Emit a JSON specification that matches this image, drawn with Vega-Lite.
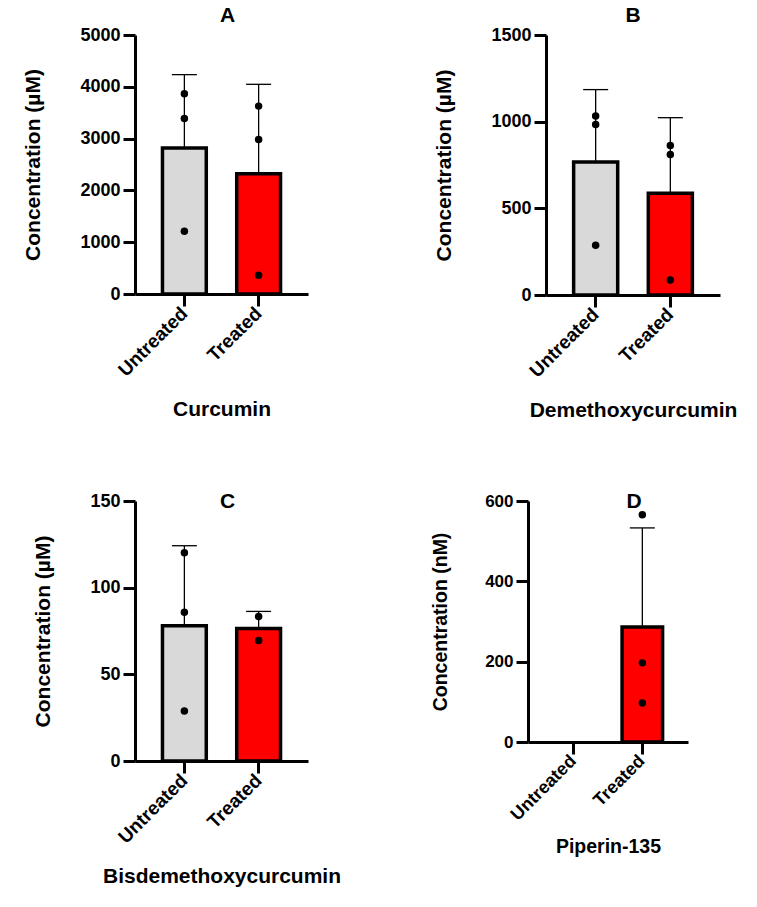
{
  "$schema": "https://vega.github.io/schema/vega-lite/v6.json",
  "background": "white",
  "padding": {"left": 22, "top": 5, "right": 5, "bottom": 5},
  "datasets": {
    "bars": [
      {"compound": "Curcumin", "group": "Untreated", "mean": 2820, "upper": 4235},
      {"compound": "Curcumin", "group": "Treated", "mean": 2320, "upper": 4048},
      {"compound": "Demethoxycurcumin", "group": "Untreated", "mean": 768, "upper": 1185},
      {"compound": "Demethoxycurcumin", "group": "Treated", "mean": 587, "upper": 1023},
      {"compound": "Bisdemethoxycurcumin", "group": "Untreated", "mean": 78, "upper": 124.2},
      {"compound": "Bisdemethoxycurcumin", "group": "Treated", "mean": 76.4, "upper": 86.3},
      {"compound": "Piperin-135", "group": "Treated", "mean": 286, "upper": 533}
    ],
    "points": [
      {"compound": "Curcumin", "group": "Untreated", "value": 3865},
      {"compound": "Curcumin", "group": "Untreated", "value": 3387},
      {"compound": "Curcumin", "group": "Untreated", "value": 1213},
      {"compound": "Curcumin", "group": "Treated", "value": 3627},
      {"compound": "Curcumin", "group": "Treated", "value": 2981},
      {"compound": "Curcumin", "group": "Treated", "value": 362},
      {"compound": "Demethoxycurcumin", "group": "Untreated", "value": 1033},
      {"compound": "Demethoxycurcumin", "group": "Untreated", "value": 984},
      {"compound": "Demethoxycurcumin", "group": "Untreated", "value": 287},
      {"compound": "Demethoxycurcumin", "group": "Treated", "value": 863},
      {"compound": "Demethoxycurcumin", "group": "Treated", "value": 811},
      {"compound": "Demethoxycurcumin", "group": "Treated", "value": 86},
      {"compound": "Bisdemethoxycurcumin", "group": "Untreated", "value": 120.2},
      {"compound": "Bisdemethoxycurcumin", "group": "Untreated", "value": 85.8},
      {"compound": "Bisdemethoxycurcumin", "group": "Untreated", "value": 28.8},
      {"compound": "Bisdemethoxycurcumin", "group": "Treated", "value": 83.4},
      {"compound": "Bisdemethoxycurcumin", "group": "Treated", "value": 69.5},
      {"compound": "Piperin-135", "group": "Treated", "value": 566},
      {"compound": "Piperin-135", "group": "Treated", "value": 197},
      {"compound": "Piperin-135", "group": "Treated", "value": 97}
    ]
  },
  "config": {
    "font": "Liberation Sans",
    "view": {"stroke": null},
    "axis": {
      "grid": false,
      "domainColor": "black",
      "domainWidth": 3,
      "tickColor": "black",
      "tickWidth": 3,
      "tickSize": 12,
      "labelFont": "Liberation Sans",
      "labelFontWeight": "bold",
      "labelFontSize": 18,
      "labelColor": "black",
      "labelPadding": 3,
      "titleFont": "Liberation Sans",
      "titleFontWeight": "bold",
      "titleFontSize": 21,
      "titleColor": "black"
    },
    "axisY": {"titlePadding": 36},
    "axisX": {"labelAngle": -45, "labelAlign": "right", "labelBaseline": "middle", "labelPadding": 4, "labelFontSize": 19, "titlePadding": 19},
    "title": {"font": "Liberation Sans", "fontWeight": "bold", "fontSize": 21, "color": "black", "anchor": "middle"}
  },
  "spacing": 70,
  "vconcat": [
    {
      "spacing": 125,
      "hconcat": [
        {
          "width": 173, "height": 259,
          "title": {"text": "A", "dx": 6, "offset": 0},
          "encoding": {"x": {"field": "group", "type": "nominal", "sort": null, "scale": {"domain": ["Untreated", "Treated"], "paddingInner": 0.41, "paddingOuter": 0.37}, "axis": {"title": "Curcumin"}}},
          "layer": [
            {"data": {"name": "bars"}, "transform": [{"filter": "datum.compound === 'Curcumin'"}], "mark": {"type": "rule", "color": "black", "strokeWidth": 1.3}, "encoding": {"y": {"field": "mean", "type": "quantitative", "scale": {"domain": [0, 5000], "nice": false}, "axis": {"title": "Concentration (µM)", "format": "d", "values": [0, 1000, 2000, 3000, 4000, 5000]}}, "y2": {"field": "upper"}}},
            {"data": {"name": "bars"}, "transform": [{"filter": "datum.compound === 'Curcumin'"}], "mark": {"type": "bar", "stroke": "black", "strokeWidth": 3.5}, "encoding": {"y": {"field": "mean", "type": "quantitative"}, "fill": {"field": "group", "type": "nominal", "scale": {"domain": ["Untreated", "Treated"], "range": ["#d9d9d9", "#ff0000"]}, "legend": null}}},
            {"data": {"name": "bars"}, "transform": [{"filter": "datum.compound === 'Curcumin'"}], "mark": {"type": "tick", "orient": "horizontal", "size": 25, "thickness": 1.3, "color": "black", "opacity": 1}, "encoding": {"y": {"field": "upper", "type": "quantitative"}}},
            {"data": {"name": "points"}, "transform": [{"filter": "datum.compound === 'Curcumin'"}], "mark": {"type": "circle", "size": 56, "color": "black", "opacity": 1}, "encoding": {"y": {"field": "value", "type": "quantitative"}}}
          ]
        },
        {
          "width": 174, "height": 260,
          "title": {"text": "B", "dx": 0, "offset": 0},
          "encoding": {"x": {"field": "group", "type": "nominal", "sort": null, "scale": {"domain": ["Untreated", "Treated"], "paddingInner": 0.41, "paddingOuter": 0.37}, "axis": {"title": "Demethoxycurcumin"}}},
          "layer": [
            {"data": {"name": "bars"}, "transform": [{"filter": "datum.compound === 'Demethoxycurcumin'"}], "mark": {"type": "rule", "color": "black", "strokeWidth": 1.3}, "encoding": {"y": {"field": "mean", "type": "quantitative", "scale": {"domain": [0, 1500], "nice": false}, "axis": {"title": "Concentration (µM)", "format": "d", "values": [0, 500, 1000, 1500]}}, "y2": {"field": "upper"}}},
            {"data": {"name": "bars"}, "transform": [{"filter": "datum.compound === 'Demethoxycurcumin'"}], "mark": {"type": "bar", "stroke": "black", "strokeWidth": 3.5}, "encoding": {"y": {"field": "mean", "type": "quantitative"}, "fill": {"field": "group", "type": "nominal", "scale": {"domain": ["Untreated", "Treated"], "range": ["#d9d9d9", "#ff0000"]}, "legend": null}}},
            {"data": {"name": "bars"}, "transform": [{"filter": "datum.compound === 'Demethoxycurcumin'"}], "mark": {"type": "tick", "orient": "horizontal", "size": 25, "thickness": 1.3, "color": "black", "opacity": 1}, "encoding": {"y": {"field": "upper", "type": "quantitative"}}},
            {"data": {"name": "points"}, "transform": [{"filter": "datum.compound === 'Demethoxycurcumin'"}], "mark": {"type": "circle", "size": 56, "color": "black", "opacity": 1}, "encoding": {"y": {"field": "value", "type": "quantitative"}}}
          ]
        }
      ]
    },
    {
      "spacing": 89,
      "hconcat": [
        {
          "width": 173, "height": 260,
          "title": {"text": "C", "dx": 6, "offset": -20},
          "encoding": {"x": {"field": "group", "type": "nominal", "sort": null, "scale": {"domain": ["Untreated", "Treated"], "paddingInner": 0.41, "paddingOuter": 0.37}, "axis": {"title": "Bisdemethoxycurcumin"}}},
          "layer": [
            {"data": {"name": "bars"}, "transform": [{"filter": "datum.compound === 'Bisdemethoxycurcumin'"}], "mark": {"type": "rule", "color": "black", "strokeWidth": 1.3}, "encoding": {"y": {"field": "mean", "type": "quantitative", "scale": {"domain": [0, 150], "nice": false}, "axis": {"title": "Concentration (µM)", "format": "d", "values": [0, 50, 100, 150]}}, "y2": {"field": "upper"}}},
            {"data": {"name": "bars"}, "transform": [{"filter": "datum.compound === 'Bisdemethoxycurcumin'"}], "mark": {"type": "bar", "stroke": "black", "strokeWidth": 3.5}, "encoding": {"y": {"field": "mean", "type": "quantitative"}, "fill": {"field": "group", "type": "nominal", "scale": {"domain": ["Untreated", "Treated"], "range": ["#d9d9d9", "#ff0000"]}, "legend": null}}},
            {"data": {"name": "bars"}, "transform": [{"filter": "datum.compound === 'Bisdemethoxycurcumin'"}], "mark": {"type": "tick", "orient": "horizontal", "size": 25, "thickness": 1.3, "color": "black", "opacity": 1}, "encoding": {"y": {"field": "upper", "type": "quantitative"}}},
            {"data": {"name": "points"}, "transform": [{"filter": "datum.compound === 'Bisdemethoxycurcumin'"}], "mark": {"type": "circle", "size": 56, "color": "black", "opacity": 1}, "encoding": {"y": {"field": "value", "type": "quantitative"}}}
          ]
        },
        {
          "width": 160, "height": 241,
          "title": {"text": "D", "dx": 26, "offset": -20},
          "encoding": {"x": {"field": "group", "type": "nominal", "sort": null, "scale": {"domain": ["Untreated", "Treated"], "paddingInner": 0.41, "paddingOuter": 0.37}, "axis": {"title": "Piperin-135", "titleFontSize": 19.5, "labelFontSize": 18, "titlePadding": 14}}},
          "layer": [
            {"data": {"name": "bars"}, "transform": [{"filter": "datum.compound === 'Piperin-135'"}], "mark": {"type": "rule", "color": "black", "strokeWidth": 1.3}, "encoding": {"y": {"field": "mean", "type": "quantitative", "scale": {"domain": [0, 600], "nice": false}, "axis": {"title": "Concentration (nM)", "format": "d", "values": [0, 200, 400, 600], "titleFontSize": 19.5, "labelFontSize": 17, "titlePadding": 34}}, "y2": {"field": "upper"}}},
            {"data": {"name": "bars"}, "transform": [{"filter": "datum.compound === 'Piperin-135'"}], "mark": {"type": "bar", "stroke": "black", "strokeWidth": 3.5}, "encoding": {"y": {"field": "mean", "type": "quantitative"}, "fill": {"field": "group", "type": "nominal", "scale": {"domain": ["Untreated", "Treated"], "range": ["#d9d9d9", "#ff0000"]}, "legend": null}}},
            {"data": {"name": "bars"}, "transform": [{"filter": "datum.compound === 'Piperin-135'"}], "mark": {"type": "tick", "orient": "horizontal", "size": 25, "thickness": 1.3, "color": "black", "opacity": 1}, "encoding": {"y": {"field": "upper", "type": "quantitative"}}},
            {"data": {"name": "points"}, "transform": [{"filter": "datum.compound === 'Piperin-135'"}], "mark": {"type": "circle", "size": 56, "color": "black", "opacity": 1}, "encoding": {"y": {"field": "value", "type": "quantitative"}}}
          ]
        }
      ]
    }
  ]
}
